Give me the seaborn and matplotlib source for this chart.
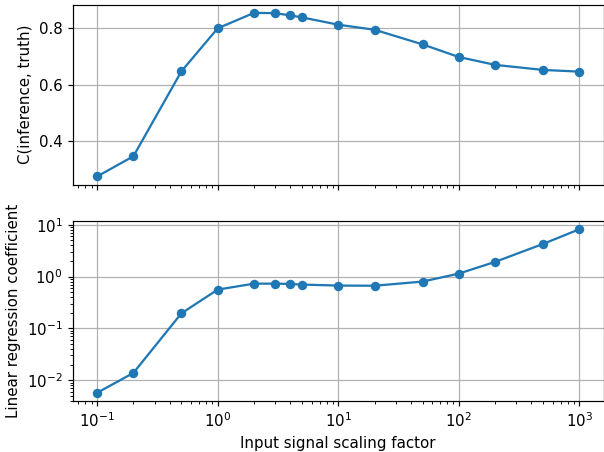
import matplotlib
matplotlib.use("Agg")
import matplotlib.pyplot as plt
import seaborn as sns
import pandas as pd

scale = [0.1, 0.2, 0.5, 1, 2, 3, 4, 5, 10, 20, 50, 100, 200, 500, 1000]
corr = [0.273, 0.345, 0.647, 0.800, 0.855, 0.854, 0.846, 0.839, 0.813,
        0.795, 0.743, 0.698, 0.670, 0.652, 0.646]
coef = [0.0057, 0.0138, 0.195, 0.56, 0.73, 0.73, 0.72, 0.70, 0.67,
        0.665, 0.80, 1.14, 1.92, 4.27, 8.2]

df = pd.DataFrame({"scale": scale, "corr": corr, "coef": coef})
color = "#1f77b4"

DPI = 108
fig, (ax1, ax2) = plt.subplots(2, 1, figsize=(604 / DPI, 452 / DPI), dpi=DPI, sharex=True)

sns.lineplot(data=df, x="scale", y="corr", ax=ax1, color=color, marker="o",
             markersize=6.3, markeredgecolor=color, markeredgewidth=0)
sns.lineplot(data=df, x="scale", y="coef", ax=ax2, color=color, marker="o",
             markersize=6.3, markeredgecolor=color, markeredgewidth=0)

ax1.set_xscale("log")
ax2.set_yscale("log")
for ax in (ax1, ax2):
    ax.grid(True)
    ax.set_xlabel("")
ax1.set_ylabel("C(inference, truth)")
ax2.set_ylabel("Linear regression coefficient")
ax2.set_xlabel("Input signal scaling factor")

fig.subplots_adjust(left=73 / 604, right=603.5 / 604, top=1 - 4.7 / 452,
                    bottom=1 - 401 / 452, hspace=36.4 / 180)
fig.savefig("out.png", dpi=DPI)
